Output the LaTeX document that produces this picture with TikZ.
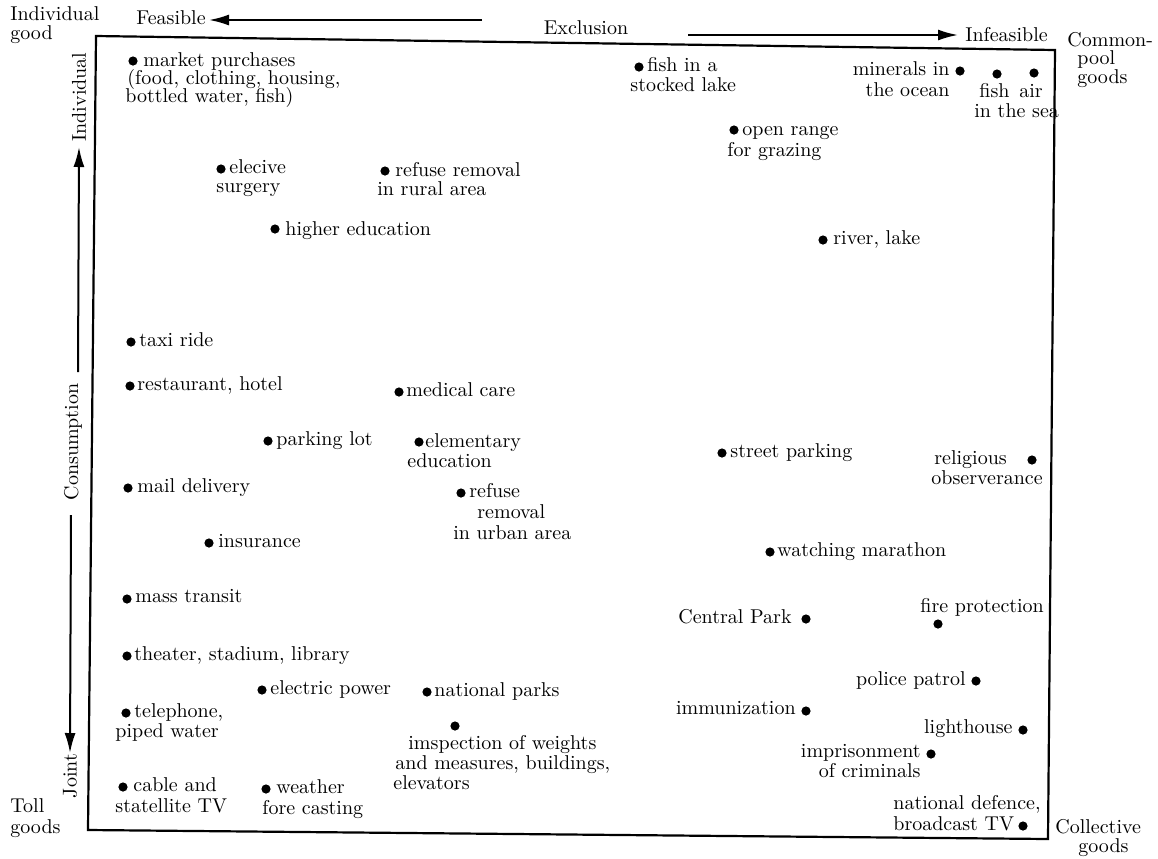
\documentclass[tikz,border=0pt]{standalone}
\usetikzlibrary{arrows.meta}
\begin{document}
\begin{tikzpicture}[x=0.5pt,y=-0.5pt,
  dot/.style={circle,fill=black,inner sep=0pt,minimum size=4.6pt},
  lbl/.style={inner sep=0pt,anchor=base west,font=\fontsize{10}{11}\selectfont},
  lblr/.style={inner sep=0pt,anchor=base east,font=\fontsize{10}{11}\selectfont},
  axlbl/.style={inner sep=0pt,font=\fontsize{10}{11}\selectfont},
  axarrow/.style={line width=1pt,-{Latex[length=10pt,width=5.5pt]}},
  frame/.style={line width=1.1pt}]
\useasboundingbox (0,0) rectangle (1158,858);
% frame
\coordinate (TL) at (96,36);
\coordinate (TR) at (1055,50);
\coordinate (BR) at (1048,839);
\coordinate (BL) at (88,830);
\draw[frame] (TL) -- (TR) -- (BR) -- (BL) -- cycle;
% corner labels
\node[lbl] (cIa) at (10,20) {Individual};
\node[lbl] (cIb) at (10,39) {good};
\node[lbl] (cCa) at (1067,46) {Common-};
\node[lbl] (cCb) at (1077,64) {pool};
\node[lbl] (cCc) at (1077,83) {goods};
\node[lbl] (cTa) at (10,812) {Toll};
\node[lbl] (cTb) at (10,833) {goods};
\node[lbl] (cKa) at (1055,833) {Collective};
\node[lbl] (cKb) at (1078,852) {goods};
% horizontal axis
\node[lbl] (feas) at (136,24) {Feasible};
\node[lbl] (infeas) at (965,41) {Infeasible};
\node[axlbl] (excl) at (586,28) {Exclusion};
\coordinate (hL) at (482,20);
\coordinate (hLt) at (209,20);
\coordinate (hR) at (688,35);
\coordinate (hRt) at (958,35);
\draw[axarrow] (hL) -- (hLt);
\draw[axarrow] (hR) -- (hRt);
% vertical axis
\node[axlbl,rotate=90] (vInd) at (79,97) {Individual};
\node[axlbl,rotate=90] (vCons) at (73,442) {Consumption};
\node[axlbl,rotate=90] (vJoint) at (70,776) {Joint};
\coordinate (vU) at (78,372);
\coordinate (vUt) at (79,147);
\coordinate (vD) at (71,515);
\coordinate (vDt) at (70,753);
\draw[axarrow] (vU) -- (vUt);
\draw[axarrow] (vD) -- (vDt);
% items
\node[dot] (d1) at (133,61) {};
\node[lbl] (t1a) at (143,66) {market purchases};
\node[lbl] (t1b) at (127,84) {(food, clothing, housing,};
\node[lbl] (t1c) at (125,102) {bottled water, fish)};
\node[dot] (d2) at (221,169) {};
\node[lbl] (t2a) at (229,173) {elecive};
\node[lbl] (t2b) at (216,192) {surgery};
\node[dot] (d3) at (385,171) {};
\node[lbl] (t3a) at (395,176) {refuse removal};
\node[lbl] (t3b) at (377,195) {in rural area};
\node[dot] (d4) at (275,229) {};
\node[lbl] (t4) at (285,235) {higher education};
\node[dot] (d5) at (639,67) {};
\node[lbl] (t5a) at (647,71) {fish in a};
\node[lbl] (t5b) at (630,91) {stocked lake};
\node[dot] (d6) at (960,71) {};
\node[lblr] (t6a) at (950,75) {minerals in};
\node[lblr] (t6b) at (950,96) {the ocean};
\node[dot] (d7) at (997,74) {};
\node[lbl] (t7a) at (979,97) {fish};
\node[lbl] (t7b) at (974,117) {in the sea};
\node[dot] (d8) at (1034,73) {};
\node[lbl] (t8) at (1019,97) {air};
\node[dot] (d9) at (734,130) {};
\node[lbl] (t9a) at (742,135) {open range};
\node[lbl] (t9b) at (727,156) {for grazing};
\node[dot] (d10) at (823,240) {};
\node[lbl] (t10) at (833,244) {river, lake};
\node[dot] (d11) at (131,342) {};
\node[lbl] (t11) at (139,346) {taxi ride};
\node[dot] (d12) at (130,386) {};
\node[lbl] (t12) at (137,390) {restaurant, hotel};
\node[dot] (d13) at (399,392) {};
\node[lbl] (t13) at (406,396) {medical care};
\node[dot] (d14) at (268,441) {};
\node[lbl] (t14) at (276,445) {parking lot};
\node[dot] (d15) at (419,442) {};
\node[lbl] (t15a) at (425,447) {elementary};
\node[lbl] (t15b) at (407,467) {education};
\node[dot] (d16) at (128,488) {};
\node[lbl] (t16) at (137,492) {mail delivery};
\node[dot] (d17) at (461,493) {};
\node[lbl] (t17a) at (469,497) {refuse};
\node[lbl] (t17b) at (477,518) {removal};
\node[lbl] (t17c) at (453,539) {in urban area};
\node[dot] (d18) at (209,543) {};
\node[lbl] (t18) at (218,547) {insurance};
\node[dot] (d19) at (722,453) {};
\node[lbl] (t19) at (730,457) {street parking};
\node[dot] (d20) at (1032,460) {};
\node[lbl] (t20a) at (934,464) {religious};
\node[lbl] (t20b) at (931,484) {observerance};
\node[dot] (d21) at (770,552) {};
\node[lbl] (t21) at (777,556) {watching marathon};
\node[dot] (d22) at (127,599) {};
\node[lbl] (t22) at (135,602) {mass transit};
\node[dot] (d23) at (806,619) {};
\node[lblr] (t23) at (792,623) {Central Park};
\node[dot] (d24) at (938,624) {};
\node[lbl] (t24) at (920,612) {fire protection};
\node[dot] (d25) at (127,656) {};
\node[lbl] (t25) at (134,660) {theater, stadium, library};
\node[dot] (d26) at (262,690) {};
\node[lbl] (t26) at (270,694) {electric power};
\node[dot] (d27) at (427,692) {};
\node[lbl] (t27) at (434,696) {national parks};
\node[dot] (d28) at (976,681) {};
\node[lblr] (t28) at (966,685) {police patrol};
\node[dot] (d29) at (126,713) {};
\node[lbl] (t29a) at (134,717) {telephone,};
\node[lbl] (t29b) at (115,737) {piped water};
\node[dot] (d30) at (806,711) {};
\node[lblr] (t30) at (796,714) {immunization};
\node[dot] (d31) at (455,726) {};
\node[lbl] (t31a) at (408,749) {imspection of weights};
\node[lbl] (t31b) at (395,769) {and measures, buildings,};
\node[lbl] (t31c) at (393,789) {elevators};
\node[dot] (d32) at (1023,730) {};
\node[lblr] (t32) at (1013,733) {lighthouse};
\node[dot] (d33) at (931,754) {};
\node[lblr] (t33a) at (921,757) {imprisonment};
\node[lblr] (t33b) at (921,777) {of criminals};
\node[dot] (d34) at (123,787) {};
\node[lbl] (t34a) at (133,791) {cable and};
\node[lbl] (t34b) at (115,812) {statellite TV};
\node[dot] (d35) at (266,789) {};
\node[lbl] (t35a) at (276,793) {weather};
\node[lbl] (t35b) at (262,814) {fore casting};
\node[dot] (d36) at (1023,826) {};
\node[lbl] (t36a) at (893,809) {national defence,};
\node[lbl] (t36b) at (893,830) {broadcast TV};
\end{tikzpicture}
\end{document}
